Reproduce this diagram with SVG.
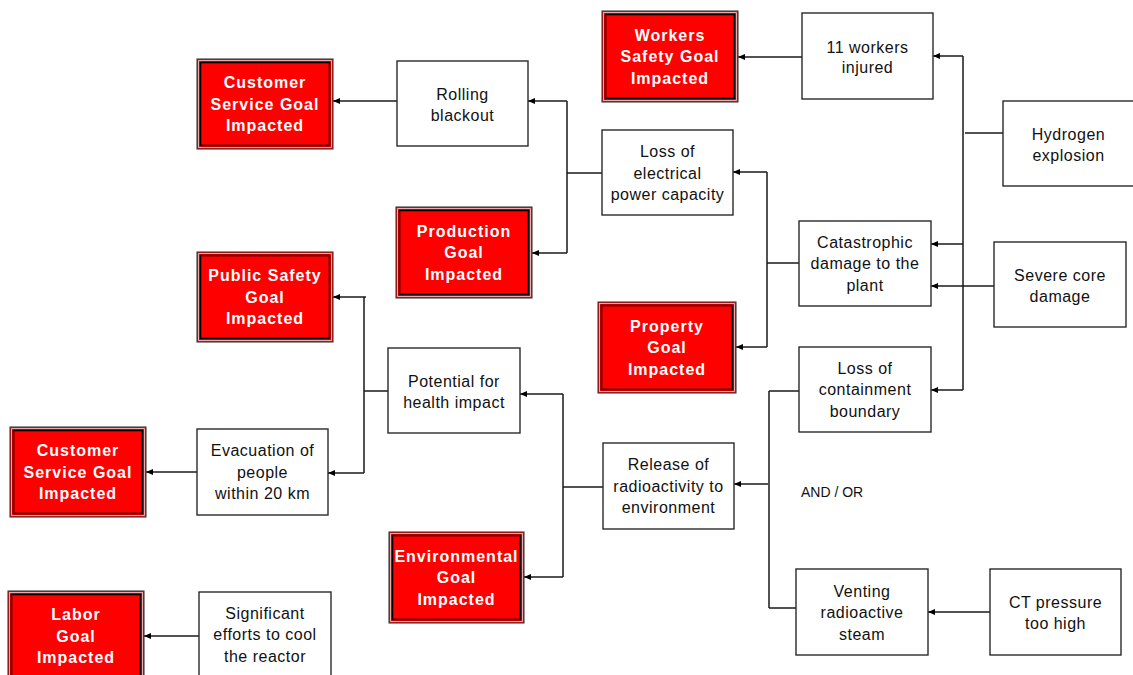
<svg xmlns="http://www.w3.org/2000/svg" width="1133" height="675" viewBox="0 0 1133 675">
  <style>
    .box { fill: #ffffff; stroke: #2a2a2a; stroke-width: 1.4; }
    .goal-outer { fill: #ff0000; stroke: #3a3a3a; stroke-width: 1.1; }
    .goal-gap { fill: none; stroke: #f4d0d0; stroke-width: 0.8; }
    .goal-inner { fill: none; stroke: #000000; stroke-width: 1.6; }
    .lbl { font-family: "Liberation Sans", Arial, sans-serif; font-size: 16px; letter-spacing: 0.5px; fill: #111111; text-anchor: middle; }
    .goal { font-family: "Liberation Sans", Arial, sans-serif; font-size: 16px; font-weight: bold; letter-spacing: 1px; fill: #ffffff; text-anchor: middle; }
    .note { font-family: "Liberation Sans", Arial, sans-serif; font-size: 14px; fill: #111111; }
    .wire { fill: none; stroke: #1a1a1a; stroke-width: 1.5; }
    .arr { fill: none; stroke: #1a1a1a; stroke-width: 1.5; marker-end: url(#tip); }
  </style>
  <defs>
    <marker id="tip" markerWidth="8" markerHeight="6" refX="7" refY="3" orient="auto" markerUnits="userSpaceOnUse">
      <path d="M0,0 L7,3 L0,6 Z" fill="#000000"/>
    </marker>
  </defs>

  <rect width="1133" height="675" fill="#ffffff"/>

  <!-- connectors -->
  <g id="connectors">
    <path class="arr" d="M397,101 H333"/>
    <path class="wire" d="M602,173 H567 M567,101 V253"/>
    <path class="arr" d="M567,101 H528"/>
    <path class="arr" d="M567,253 H532"/>
    <path class="arr" d="M802,57 H738"/>
    <path class="arr" d="M963,56 H933"/>
    <path class="wire" d="M963,56 V390 M1003,133 H965"/>
    <path class="arr" d="M963,244 H931"/>
    <path class="arr" d="M963,390 H931"/>
    <path class="arr" d="M994,286 H931"/>
    <path class="wire" d="M799,263 H767 M767,172 V347"/>
    <path class="arr" d="M767,172 H733"/>
    <path class="arr" d="M767,347 H736"/>
    <path class="wire" d="M388,391 H364 M364,297 V473"/>
    <path class="arr" d="M366,297 H333"/>
    <path class="arr" d="M364,473 H328"/>
    <path class="arr" d="M197,472 H146"/>
    <path class="arr" d="M199,636 H144"/>
    <path class="wire" d="M603,487 H563 M563,394 V577"/>
    <path class="arr" d="M563,394 H520"/>
    <path class="arr" d="M563,577 H524"/>
    <path class="wire" d="M799,391 H769 M769,391 V608 M796,608 H769"/>
    <path class="arr" d="M768,484 H734"/>
    <path class="arr" d="M990,612 H928"/>
  </g>

  <!-- goal nodes -->
  <g id="goal-customer-service-1">
    <rect class="goal-outer" x="197" y="59" width="136" height="90"/>
    <rect class="goal-gap" x="198.6" y="60.6" width="132.8" height="86.8"/>
    <rect class="goal-inner" x="200.5" y="62.5" width="129" height="83"/>
    <text class="goal"><tspan x="265" y="88">Customer</tspan><tspan x="265" y="109.5">Service Goal</tspan><tspan x="265" y="131">Impacted</tspan></text>
  </g>
  <g id="goal-workers-safety">
    <rect class="goal-outer" x="602" y="11" width="136" height="91"/>
    <rect class="goal-gap" x="603.6" y="12.6" width="132.8" height="87.8"/>
    <rect class="goal-inner" x="605.5" y="14.5" width="129" height="84"/>
    <text class="goal"><tspan x="670" y="40.5">Workers</tspan><tspan x="670" y="62">Safety Goal</tspan><tspan x="670" y="83.5">Impacted</tspan></text>
  </g>
  <g id="goal-production">
    <rect class="goal-outer" x="396" y="207" width="136" height="91"/>
    <rect class="goal-gap" x="397.6" y="208.6" width="132.8" height="87.8"/>
    <rect class="goal-inner" x="399.5" y="210.5" width="129" height="84"/>
    <text class="goal"><tspan x="464" y="236.5">Production</tspan><tspan x="464" y="258">Goal</tspan><tspan x="464" y="279.5">Impacted</tspan></text>
  </g>
  <g id="goal-public-safety">
    <rect class="goal-outer" x="197" y="252" width="136" height="90"/>
    <rect class="goal-gap" x="198.6" y="253.6" width="132.8" height="86.8"/>
    <rect class="goal-inner" x="200.5" y="255.5" width="129" height="83"/>
    <text class="goal"><tspan x="265" y="281">Public Safety</tspan><tspan x="265" y="302.5">Goal</tspan><tspan x="265" y="324">Impacted</tspan></text>
  </g>
  <g id="goal-property">
    <rect class="goal-outer" x="598" y="302" width="138" height="91"/>
    <rect class="goal-gap" x="599.6" y="303.6" width="134.8" height="87.8"/>
    <rect class="goal-inner" x="601.5" y="305.5" width="131" height="84"/>
    <text class="goal"><tspan x="667" y="331.5">Property</tspan><tspan x="667" y="353">Goal</tspan><tspan x="667" y="374.5">Impacted</tspan></text>
  </g>
  <g id="goal-customer-service-2">
    <rect class="goal-outer" x="10" y="427" width="136" height="90"/>
    <rect class="goal-gap" x="11.6" y="428.6" width="132.8" height="86.8"/>
    <rect class="goal-inner" x="13.5" y="430.5" width="129" height="83"/>
    <text class="goal"><tspan x="78" y="456">Customer</tspan><tspan x="78" y="477.5">Service Goal</tspan><tspan x="78" y="499">Impacted</tspan></text>
  </g>
  <g id="goal-environmental">
    <rect class="goal-outer" x="389" y="532" width="135" height="91"/>
    <rect class="goal-gap" x="390.6" y="533.6" width="131.8" height="87.8"/>
    <rect class="goal-inner" x="392.5" y="535.5" width="128" height="84"/>
    <text class="goal"><tspan x="456.5" y="561.5">Environmental</tspan><tspan x="456.5" y="583">Goal</tspan><tspan x="456.5" y="604.5">Impacted</tspan></text>
  </g>
  <g id="goal-labor">
    <rect class="goal-outer" x="8" y="591" width="136" height="90"/>
    <rect class="goal-gap" x="9.6" y="592.6" width="132.8" height="86.8"/>
    <rect class="goal-inner" x="11.5" y="594.5" width="129" height="83"/>
    <text class="goal"><tspan x="76" y="620">Labor</tspan><tspan x="76" y="641.5">Goal</tspan><tspan x="76" y="663">Impacted</tspan></text>
  </g>

  <!-- event nodes -->
  <g id="rolling-blackout">
    <rect class="box" x="397" y="61" width="131" height="85"/>
    <text class="lbl"><tspan x="462.5" y="100">Rolling</tspan><tspan x="462.5" y="120.5">blackout</tspan></text>
  </g>
  <g id="workers-injured">
    <rect class="box" x="802" y="13" width="131" height="86"/>
    <text class="lbl"><tspan x="867.5" y="52.5">11 workers</tspan><tspan x="867.5" y="73">injured</tspan></text>
  </g>
  <g id="loss-electrical">
    <rect class="box" x="602" y="130" width="131" height="85"/>
    <text class="lbl"><tspan x="667.5" y="157">Loss of</tspan><tspan x="667.5" y="178.5">electrical</tspan><tspan x="667.5" y="200">power capacity</tspan></text>
  </g>
  <g id="hydrogen-explosion">
    <rect class="box" x="1003" y="101" width="131" height="85"/>
    <text class="lbl"><tspan x="1068.5" y="139.5">Hydrogen</tspan><tspan x="1068.5" y="160.5">explosion</tspan></text>
  </g>
  <g id="catastrophic-damage">
    <rect class="box" x="799" y="221" width="132" height="85"/>
    <text class="lbl"><tspan x="865" y="247.5">Catastrophic</tspan><tspan x="865" y="269">damage to the</tspan><tspan x="865" y="290.5">plant</tspan></text>
  </g>
  <g id="severe-core-damage">
    <rect class="box" x="994" y="242" width="132" height="85"/>
    <text class="lbl"><tspan x="1060" y="280.5">Severe core</tspan><tspan x="1060" y="301.5">damage</tspan></text>
  </g>
  <g id="loss-containment">
    <rect class="box" x="799" y="347" width="132" height="85"/>
    <text class="lbl"><tspan x="865" y="373.5">Loss of</tspan><tspan x="865" y="395">containment</tspan><tspan x="865" y="416.5">boundary</tspan></text>
  </g>
  <g id="health-impact">
    <rect class="box" x="388" y="348" width="132" height="85"/>
    <text class="lbl"><tspan x="454" y="386.5">Potential for</tspan><tspan x="454" y="407.5">health impact</tspan></text>
  </g>
  <g id="release-radioactivity">
    <rect class="box" x="603" y="443" width="131" height="86"/>
    <text class="lbl"><tspan x="668.5" y="470">Release of</tspan><tspan x="668.5" y="491.5">radioactivity to</tspan><tspan x="668.5" y="513">environment</tspan></text>
  </g>
  <g id="evacuation">
    <rect class="box" x="197" y="429" width="131" height="86"/>
    <text class="lbl"><tspan x="262.5" y="456">Evacuation of</tspan><tspan x="262.5" y="477.5">people</tspan><tspan x="262.5" y="499">within 20 km</tspan></text>
  </g>
  <g id="cooling-efforts">
    <rect class="box" x="199" y="592" width="132" height="85"/>
    <text class="lbl"><tspan x="265" y="618.5">Significant</tspan><tspan x="265" y="640">efforts to cool</tspan><tspan x="265" y="661.5">the reactor</tspan></text>
  </g>
  <g id="venting-steam">
    <rect class="box" x="796" y="569" width="132" height="86"/>
    <text class="lbl"><tspan x="862" y="596.5">Venting</tspan><tspan x="862" y="618">radioactive</tspan><tspan x="862" y="639.5">steam</tspan></text>
  </g>
  <g id="ct-pressure">
    <rect class="box" x="990" y="569" width="131" height="86"/>
    <text class="lbl"><tspan x="1055.5" y="608">CT pressure</tspan><tspan x="1055.5" y="629">too high</tspan></text>
  </g>

  <text class="note" x="801" y="497">AND / OR</text>
</svg>
